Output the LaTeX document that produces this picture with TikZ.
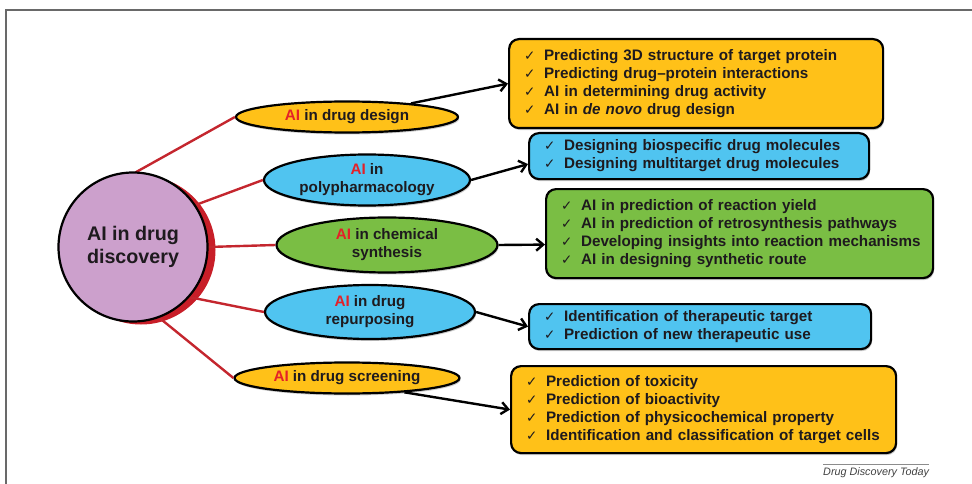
\documentclass[tikz,border=0pt]{standalone}
\usepackage{fontspec}
\setmainfont{Liberation Sans}
\newfontfamily\symfont{DejaVu Sans}
\usetikzlibrary{shapes.geometric,arrows.meta,calc,shadows}

\definecolor{hubfill}{RGB}{204,160,204}
\definecolor{hubshade}{RGB}{200,30,40}
\definecolor{linkred}{RGB}{196,38,46}
\definecolor{aired}{RGB}{228,32,40}
\definecolor{sunyellow}{RGB}{255,193,24}
\definecolor{skyblue}{RGB}{80,196,240}
\definecolor{leafgreen}{RGB}{122,190,68}
\definecolor{framegray}{RGB}{105,105,105}
\definecolor{inkdark}{RGB}{30,26,30}

% one ticked line of a detail box, never broken
\newcommand{\ckline}[1]{\mbox{\makebox[20pt][l]{\symfont\bfseries\fontsize{13.5}{13.5}\selectfont ✓}#1}}
\newcommand{\redai}{\textcolor{aired}{AI}}

\tikzset{
  topic/.style={ellipse, draw=black, line width=2.2pt, inner sep=0pt, align=center,
    text=inkdark, font=\fontsize{15.2}{18}\selectfont\bfseries,
    drop shadow={shadow xshift=1pt, shadow yshift=-2pt, fill=black!40, opacity=0.5}},
  detail/.style={draw=black, line width=2.2pt, rounded corners=10pt, anchor=north west,
    inner xsep=15pt, inner ysep=0pt, align=left, text=inkdark,
    font=\fontsize{15.2}{18}\selectfont\bfseries,
    drop shadow={shadow xshift=1pt, shadow yshift=-2pt, fill=black!40, opacity=0.5}},
  spoke/.style={draw=linkred, line width=2.4pt},
  pointer/.style={draw=black, line width=2.4pt, -{Straight Barb[length=7pt, width=12pt, line width=2.4pt]}}
}

\begin{document}
\begin{tikzpicture}[x=1pt, y=-1pt]
\useasboundingbox (0,0) rectangle (972,484);

% outer frame
\draw[framegray, line width=2pt] (6,484) -- (6,10) -- (972,10);

% red crescent behind the hub
\node[circle, fill=hubshade, minimum size=149pt, inner sep=0pt] (hubshadow) at (141,250) {};

% topics
\node[topic, fill=sunyellow, minimum width=222pt, minimum height=31pt] (e1) at (347,117) {\redai{} in drug design};
\node[topic, fill=skyblue, minimum width=206pt, minimum height=51pt] (e2) at (367,180) {\redai{} in\\polypharmacology};
\node[topic, fill=leafgreen, minimum width=221pt, minimum height=55pt] (e3) at (387,245) {\redai{} in chemical\\synthesis};
\node[topic, fill=skyblue, minimum width=210pt, minimum height=54pt] (e4) at (370,312) {\redai{} in drug\\repurposing};
\node[topic, fill=sunyellow, minimum width=225pt, minimum height=31pt] (e5) at (347,378) {\redai{} in drug screening};

% hub outline used as anchor for the spokes
\node[circle, minimum size=149pt, inner sep=0pt] (hub) at (133,247) {};

% spokes from hub to topics (under the hub)
\draw[spoke] (hub.88) -- (e1.west);
\draw[spoke] (hub.34) -- (e2.west);
\draw[spoke] (hub.0) -- (e3.west);
\draw[spoke] (hub.-42) -- (e4.west);
\draw[spoke] (hub.-70) -- (e5.west);

% hub on top of the spokes
\node[circle, draw=black, line width=2.2pt, fill=hubfill, minimum size=149pt, inner sep=0pt,
  align=center, text=inkdark, font=\fontsize{19.7}{23}\selectfont\bfseries] (hubtop) at (133,247) {\raisebox{-3pt}{AI in drug}\\\raisebox{-3pt}{discovery}};

% detail boxes
\node[detail, fill=sunyellow, text width=344pt, minimum height=89pt] (b1) at (508,38)
  {\ckline{Predicting 3D structure of target protein}\\
   \ckline{Predicting drug--protein interactions}\\
   \ckline{AI in determining drug activity}\\
   \ckline{AI in \textit{de novo} drug design}};
\node[detail, fill=skyblue, text width=310pt, minimum height=46pt] (b2) at (528,132)
  {\ckline{Designing biospecific drug molecules}\\
   \ckline{Designing multitarget drug molecules}};
\node[detail, fill=leafgreen, text width=357pt, minimum height=89pt] (b3) at (545,188)
  {\ckline{AI in prediction of reaction yield}\\
   \ckline{AI in prediction of retrosynthesis pathways}\\
   \ckline{Developing insights into reaction mechanisms}\\
   \ckline{AI in designing synthetic route}};
\node[detail, fill=skyblue, text width=312pt, minimum height=45pt] (b4) at (528,303)
  {\ckline{Identification of therapeutic target}\\
   \ckline{Prediction of new therapeutic use}};
\node[detail, fill=sunyellow, text width=355pt, minimum height=87pt] (b5) at (510,365)
  {\ckline{Prediction of toxicity}\\
   \ckline{Prediction of bioactivity}\\
   \ckline{Prediction of physicochemical property}\\
   \ckline{Identification and classification of target cells}};

% arrows from topics to details
\draw[pointer] (e1.12) -- (b1.west);
\draw[pointer] (e2.east) -- ($(b2.west)+(0,8)$);
\draw[pointer] (e3.east) -- ($(b3.west)+(0,11)$);
\draw[pointer] (e4.east) -- (b4.west);
\draw[pointer] (e5.-14) -- (b5.west);

% source line
\node[anchor=south west, inner sep=0pt, text=black!75, font=\fontsize{10.8}{12}\selectfont\itshape] (src) at (823,478) {Drug Discovery Today};
\draw[black!45, line width=0.7pt] ($(src.north west)+(0,-3)$) -- ($(src.north east)+(0,-3)$);
\end{tikzpicture}
\end{document}
